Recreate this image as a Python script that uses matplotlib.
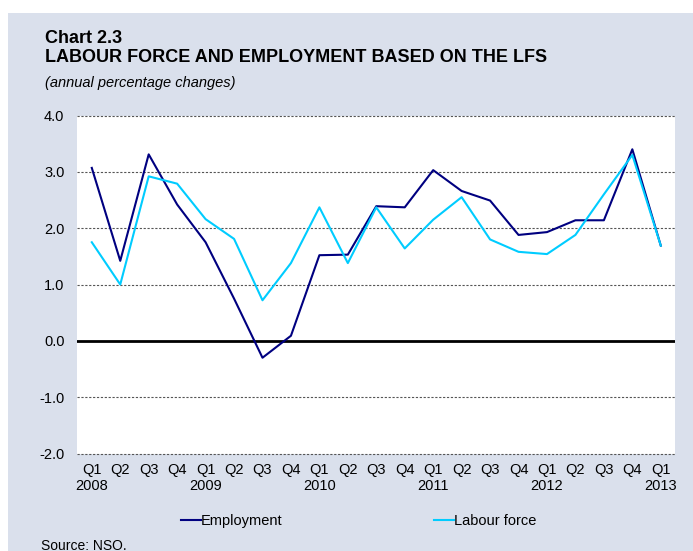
import numpy as np
import matplotlib.pyplot as plt
from matplotlib.patches import Rectangle
from matplotlib.lines import Line2D

plt.rcParams['font.family'] = ['Liberation Sans', 'DejaVu Sans']

# Quarterly data, 2008 Q1 - 2013 Q1
quarters = ['Q1', 'Q2', 'Q3', 'Q4'] * 5 + ['Q1']
years = ['2008', '2009', '2010', '2011', '2012', '2013']
employment = [3.07, 1.42, 3.31, 2.42, 1.75, 0.75, -0.30, 0.09, 1.52, 1.53,
              2.39, 2.37, 3.03, 2.66, 2.49, 1.88, 1.93, 2.14, 2.14, 3.40, 1.69]
labour_force = [1.75, 1.00, 2.92, 2.79, 2.16, 1.81, 0.72, 1.38, 2.37, 1.38,
                2.37, 1.64, 2.15, 2.55, 1.80, 1.58, 1.54, 1.88, 2.60, 3.30, 1.69]

W, H = 693, 551
bg = '#dae0ec'
navy = '#000080'
cyan = '#00ccff'

fig = plt.figure(figsize=(W / 100, H / 100), dpi=100)
fig.patch.set_facecolor('white')
# light panel behind everything
fig.patches.append(Rectangle((8 / W, 0), 1, 1 - 13 / H, transform=fig.transFigure,
                             facecolor=bg, edgecolor='none', zorder=-10))

ax = fig.add_axes([77 / W, 1 - 453.5 / H, (675 - 77) / W, (453.5 - 115.5) / H])
ax.set_facecolor('white')

x = np.arange(len(employment))
ax.plot(x, employment, color=navy, lw=1.5, zorder=3)
ax.plot(x, labour_force, color=cyan, lw=1.5, zorder=3)

ax.set_xlim(-0.52, 20.5)
ax.set_ylim(-2.0, 4.0)
ax.set_yticks(np.arange(-2, 4.1, 1))
ax.set_yticklabels([f'{v:.1f}' for v in np.arange(-2, 4.1, 1)])

# horizontal grid: dashed, zero line solid black
for v in [-2, -1, 1, 2, 3, 4]:
    ax.axhline(v, color='#555555', lw=0.8, ls=(0, (2, 1.5)), zorder=1, clip_on=False)
ax.axhline(0, color='black', lw=2, zorder=2)

labels = []
for i, q in enumerate(quarters):
    if i % 4 == 0:
        labels.append(q + '\n' + years[i // 4])
    else:
        labels.append(q + '\n')
ax.set_xticks(x)
ax.set_xticklabels(labels, fontsize=10.5, linespacing=1.15)
ax.tick_params(axis='x', length=0, pad=7)
ax.tick_params(axis='y', length=0, pad=9, labelsize=10.5)
for s in ax.spines.values():
    s.set_visible(False)

# titles
fig.text(45 / W, 1 - 43 / H, 'Chart 2.3', fontsize=13, fontweight='bold', va='baseline')
fig.text(45 / W, 1 - 62 / H, 'LABOUR FORCE AND EMPLOYMENT BASED ON THE LFS',
         fontsize=13, fontweight='bold', va='baseline')
fig.text(45 / W, 1 - 87 / H, '(annual percentage changes)', fontsize=10.5,
         style='italic', va='baseline')

# legend
handles = [Line2D([], [], color=navy, lw=1.5), Line2D([], [], color=cyan, lw=1.5)]
fig.legend(handles[:1], ['Employment'], loc='center left', bbox_to_anchor=(168 / W, 1 - 521 / H),
           frameon=False, fontsize=10.5, handlelength=1.37, handletextpad=0.0)
fig.legend(handles[1:], ['Labour force'], loc='center left', bbox_to_anchor=(421 / W, 1 - 521 / H),
           frameon=False, fontsize=10.5, handlelength=1.37, handletextpad=0.0)

fig.text(41 / W, 1 - 549.5 / H, 'Source: NSO.', fontsize=10, va='baseline')

fig.savefig('out.png', dpi=100, facecolor=fig.get_facecolor())
